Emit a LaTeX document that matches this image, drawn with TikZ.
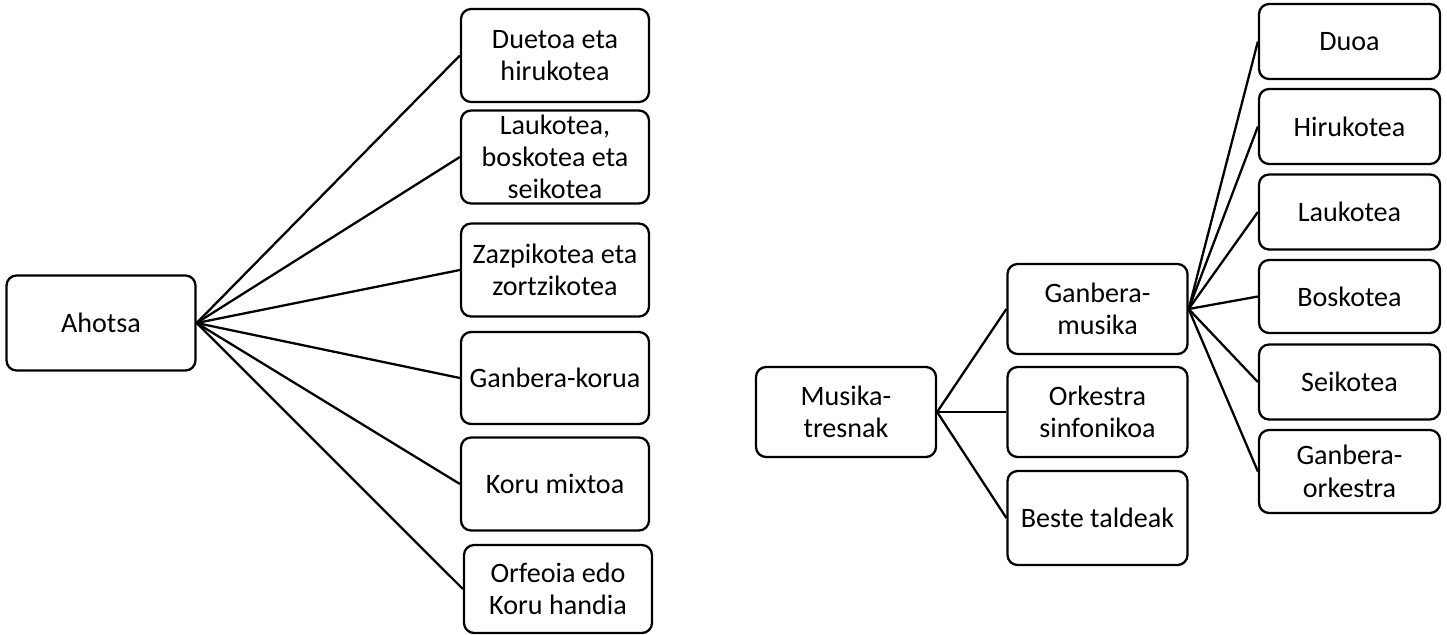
\documentclass[tikz,border=0pt]{standalone}
\usepackage{fontspec}
\setmainfont{Carlito}
\usetikzlibrary{calc}

\begin{document}
\begin{tikzpicture}[x=0.02cm, y=-0.02cm,
        box_style/.style={draw=black, line width=1.3pt, rounded corners=0.2cm, align=center, inner sep=0pt,
            minimum width=3.76cm, minimum height=1.86cm, font=\fontsize{16}{18.4}\selectfont},
        small_box_style/.style={box_style, minimum width=3.6cm, minimum height=1.8cm},
        leaf_box_style/.style={box_style, minimum width=3.62cm, minimum height=1.5cm},
        edge_style/.style={draw=black, line width=1.3pt}]

        \useasboundingbox (0,0) rectangle (1447,635);

        % ahotsa
        \node [box_style, minimum width=3.78cm, minimum height=1.9cm](n1) at (101,323) {Ahotsa};

        \node [box_style](n2) at (555,55.5) {Duetoa eta\\hirukotea};

        \node [box_style](n3) at (555,157) {Laukotea,\\boskotea eta\\seikotea};

        \node [box_style](n4) at (555,270) {Zazpikotea eta\\zortzikotea};

        \node [box_style, minimum height=1.84cm](n5) at (555,378) {Ganbera-korua};

        \node [box_style](n6) at (555,484) {Koru mixtoa};

        \node [box_style, minimum height=1.76cm](n7) at (558,589) {Orfeoia edo\\Koru handia};

        \draw [edge_style] (n1.east) edge (n2.west);
        \draw [edge_style] (n1.east) edge (n3.west);
        \draw [edge_style] (n1.east) edge (n4.west);
        \draw [edge_style] (n1.east) edge (n5.west);
        \draw [edge_style] (n1.east) edge (n6.west);
        \draw [edge_style] (n1.east) edge (n7.west);

        % musika-tresnak
        \node [small_box_style](m1) at (846,412) {Musika-\\tresnak};

        \node [small_box_style](m2) at (1097.5,309) {Ganbera-\\musika};

        \node [small_box_style](m3) at (1097.5,412) {Orkestra\\sinfonikoa};

        \node [small_box_style, minimum height=1.88cm](m4) at (1097.5,518) {Beste taldeak};

        \node [leaf_box_style](m5) at (1349.5,41.5) {Duoa};

        \node [leaf_box_style](m6) at (1349.5,126.5) {Hirukotea};

        \node [leaf_box_style](m7) at (1349.5,212) {Laukotea};

        \node [leaf_box_style, minimum height=1.46cm](m8) at (1349.5,296.5) {Boskotea};

        \node [leaf_box_style](m9) at (1349.5,382) {Seikotea};

        \node [leaf_box_style, minimum height=1.66cm](m10) at (1349.5,471.5) {Ganbera-\\orkestra};

        \draw [edge_style] (m1.east) edge (m2.west);
        \draw [edge_style] (m1.east) edge (m3.west);
        \draw [edge_style] (m1.east) edge (m4.west);

        \draw [edge_style] (m2.east) edge (m5.west);
        \draw [edge_style] (m2.east) edge (m6.west);
        \draw [edge_style] (m2.east) edge (m7.west);
        \draw [edge_style] (m2.east) edge (m8.west);
        \draw [edge_style] (m2.east) edge (m9.west);
        \draw [edge_style] (m2.east) edge (m10.west);

        \end{tikzpicture}
\end{document}
